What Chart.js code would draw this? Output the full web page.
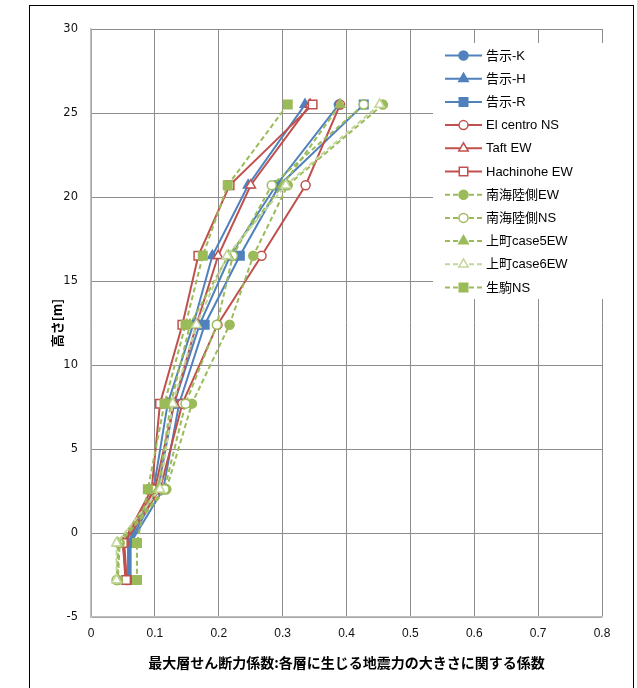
<!DOCTYPE html>
<html lang="ja">
<head>
<meta charset="UTF-8">
<title>最大層せん断力係数</title>
<script src="https://cdn.jsdelivr.net/npm/chart.js"></script>
<style>
  body { margin: 0; background: #fff; }
  .wrap { position: relative; width: 637px; height: 688px; overflow: hidden; }
  .frame { position: absolute; left: 29px; top: 5px; width: 603px; height: 720px; border: 1px solid #000; }
  canvas { position: absolute; left: 0; top: 0; }
</style>
</head>
<body>
<div class="wrap">
  <div class="frame"></div>
  <canvas id="grafico" width="637" height="688"></canvas>
</div>
<script>
// 高さ (m)
const alturas = [25.5, 20.7, 16.5, 12.4, 7.7, 2.6, -0.6, -2.8];

// 最大層せん断力係数
const kokujiK   = [0.388, 0.290, 0.218, 0.170, 0.130, 0.105, 0.060, 0.060];
const kokujiH   = [0.335, 0.246, 0.190, 0.160, 0.120, 0.098, 0.058, 0.058];
const kokujiR   = [0.427, 0.295, 0.233, 0.178, 0.138, 0.113, 0.062, 0.062];
const elCentro  = [0.390, 0.336, 0.267, 0.198, 0.143, 0.108, 0.052, 0.056];
const taft      = [0.343, 0.250, 0.199, 0.165, 0.130, 0.100, 0.050, 0.054];
const hachinohe = [0.347, 0.217, 0.168, 0.143, 0.108, 0.095, 0.050, 0.055];
const nankaiEW  = [0.457, 0.308, 0.254, 0.217, 0.158, 0.118, 0.045, 0.042];
const nankaiNS  = [0.427, 0.283, 0.222, 0.197, 0.148, 0.115, 0.043, 0.040];
const case5EW   = [0.390, 0.300, 0.215, 0.155, 0.125, 0.105, 0.042, 0.042];
const case6EW   = [0.452, 0.305, 0.213, 0.165, 0.128, 0.108, 0.040, 0.040];
const ikomaNS   = [0.308, 0.214, 0.175, 0.148, 0.115, 0.089, 0.072, 0.072];

const xTicks = [0, 0.1, 0.2, 0.3, 0.4, 0.5, 0.6, 0.7, 0.8];
const yTicks = [-5, 0, 5, 10, 15, 20, 25, 30];

const azul = '#4f81bd';
const vermelho = '#c0504d';
const verde = '#9bbb59';
const verdeClaro = '#c3d69b';

const series = [
  { nome: '告示-K', valores: kokujiK, cor: azul, ponto: 'circle', r: 4.5, cheio: true, tracejado: false },
  { nome: '告示-H', valores: kokujiH, cor: azul, ponto: 'triangle', r: 5.5, cheio: true, tracejado: false },
  { nome: '告示-R', valores: kokujiR, cor: azul, ponto: 'rect', r: 6, cheio: true, tracejado: false },
  { nome: 'El centro NS', valores: elCentro, cor: vermelho, ponto: 'circle', r: 4.5, cheio: false, tracejado: false },
  { nome: 'Taft EW', valores: taft, cor: vermelho, ponto: 'triangle', r: 5.5, cheio: false, tracejado: false },
  { nome: 'Hachinohe EW', valores: hachinohe, cor: vermelho, ponto: 'rect', r: 6, cheio: false, tracejado: false },
  { nome: '南海陸側EW', valores: nankaiEW, cor: verde, ponto: 'circle', r: 4.5, cheio: true, tracejado: true },
  { nome: '南海陸側NS', valores: nankaiNS, cor: verde, ponto: 'circle', r: 4.5, cheio: false, tracejado: true },
  { nome: '上町case5EW', valores: case5EW, cor: verde, ponto: 'triangle', r: 5.5, cheio: true, tracejado: true },
  { nome: '上町case6EW', valores: case6EW, cor: verdeClaro, ponto: 'triangle', r: 5.5, cheio: false, tracejado: true },
  { nome: '生駒NS', valores: ikomaNS, cor: verde, ponto: 'rect', r: 6, cheio: true, tracejado: true }
];

const datasets = series.map((s, i) => ({
  label: s.nome,
  data: s.valores.map((v, j) => ({ x: v, y: alturas[j] })),
  showLine: true,
  borderColor: s.cor,
  borderWidth: 2,
  borderDash: s.tracejado ? [5, 3] : [],
  pointStyle: s.ponto,
  pointRadius: s.r,
  pointHoverRadius: s.r,
  pointBackgroundColor: s.cheio ? s.cor : '#ffffff',
  pointBorderColor: s.cor,
  pointBorderWidth: 1.5,
  order: series.length - i
}));

function desenharMarcador(ctx, tipo, x, y, r) {
  ctx.beginPath();
  if (tipo === 'circle') {
    ctx.arc(x, y, r, 0, Math.PI * 2);
  } else if (tipo === 'triangle') {
    ctx.moveTo(x, y - r);
    ctx.lineTo(x + r * 0.866, y + r * 0.5);
    ctx.lineTo(x - r * 0.866, y + r * 0.5);
    ctx.closePath();
  } else {
    const h = r * Math.SQRT1_2;
    ctx.rect(x - h, y - h, h * 2, h * 2);
  }
}

// legenda desenhada dentro da area do grafico, como no Excel
const legendaPlugin = {
  id: 'legenda',
  afterDraw(chart) {
    const ctx = chart.ctx;
    ctx.save();
    ctx.fillStyle = '#ffffff';
    ctx.fillRect(433, 43, 170, 256);
    series.forEach((s, i) => {
      const y = 55.5 + i * 23.2;
      ctx.strokeStyle = s.cor;
      ctx.lineWidth = 2;
      ctx.setLineDash(s.tracejado ? [5, 3] : []);
      ctx.beginPath();
      ctx.moveTo(445, y);
      ctx.lineTo(482, y);
      ctx.stroke();
      ctx.setLineDash([]);
      desenharMarcador(ctx, s.ponto, 463.5, y, s.r);
      ctx.fillStyle = s.cheio ? s.cor : '#ffffff';
      ctx.fill();
      ctx.lineWidth = 1.5;
      ctx.stroke();
      ctx.fillStyle = '#000';
      ctx.font = '13px "Liberation Sans", "Noto Sans CJK JP", sans-serif';
      ctx.textBaseline = 'middle';
      ctx.fillText(s.nome, 486, y + 0.5);
    });
    ctx.restore();
  }
};

const fonteTickX = { family: '"Liberation Sans", sans-serif', size: 12 };
const fonteTickY = { family: '"DejaVu Sans", sans-serif', size: 11.5 };

new Chart(document.getElementById('grafico'), {
  type: 'scatter',
  data: { datasets: datasets },
  options: {
    responsive: false,
    animation: false,
    layout: { padding: { left: 0, right: 35, top: 29, bottom: 0 } },
    plugins: { legend: { display: false }, tooltip: { enabled: false } },
    scales: {
      x: {
        type: 'linear',
        min: 0,
        max: 0.8,
        afterBuildTicks: (axis) => { axis.ticks = xTicks.map(v => ({ value: v })); },
        afterFit: (axis) => { axis.height = 71; },
        ticks: { font: fonteTickX, color: '#111', padding: 9, callback: (v) => String(v) },
        grid: { color: '#8c8c8c', lineWidth: 1, drawTicks: false },
        border: { color: '#bfbfbf', width: 1.5 },
        title: { display: true, text: '最大層せん断力係数:各層に生じる地震力の大きさに関する係数', font: { family: '"Noto Sans CJK JP", sans-serif', size: 14, weight: 'bold' }, color: '#000', padding: { top: 0, bottom: 17 } }
      },
      y: {
        type: 'linear',
        min: -5,
        max: 30,
        afterBuildTicks: (axis) => { axis.ticks = yTicks.map(v => ({ value: v })); },
        afterFit: (axis) => { axis.width = 91; },
        ticks: { font: fonteTickY, color: '#111', padding: 13 },
        grid: { color: '#8c8c8c', lineWidth: 1, drawTicks: false },
        border: { color: '#bfbfbf', width: 1.5 },
        title: { display: true, text: '高さ[m]', font: { family: '"Noto Sans CJK JP", sans-serif', size: 13, weight: 'bold' }, color: '#000', padding: { top: 49, bottom: 0 } }
      }
    }
  },
  plugins: [legendaPlugin]
});
</script>
</body>
</html>
